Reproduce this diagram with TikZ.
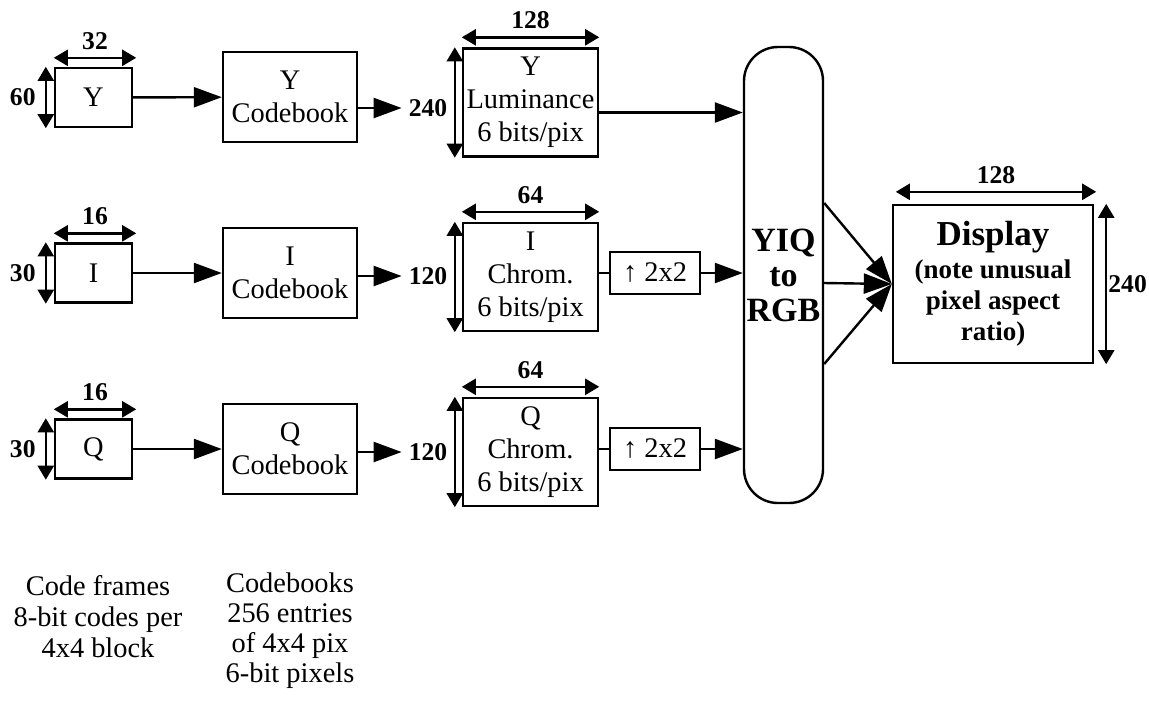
\documentclass[tikz,border=0pt]{standalone}
\usepackage{fontspec}
\setmainfont{Liberation Serif}
\usetikzlibrary{arrows.meta,positioning,calc}

\begin{document}
\begin{tikzpicture}[x=0.5pt,y=-0.5pt,line width=1.2pt,
  txt/.style={font=\fontsize{14.2}{16.5}\selectfont,align=center},
  blk/.style={draw,txt,inner sep=0pt},
  frame/.style={blk,minimum width=38.5pt,minimum height=29.5pt},
  cbook/.style={blk,minimum width=67pt,minimum height=45pt},
  plane/.style={blk,minimum width=67.5pt,minimum height=54pt},
  upbox/.style={blk,minimum width=45pt,minimum height=21pt},
  dimnum/.style={font=\bfseries\fontsize{12.8}{14}\selectfont,inner sep=1.5pt},
  flow/.style={-{Triangle[length=14pt,width=10pt]}},
  dim/.style={{Triangle[length=7pt,width=8pt]}-{Triangle[length=7pt,width=8pt]}}]
  \useasboundingbox (0,0) rectangle (1149,709);

  % Y row
  \node[frame] (fy) at (93.5,97.5) {Y};
  \node[cbook] (cy) at (290,97) {Y\\Codebook};
  \node[plane] (py) at (530.5,102.5) {Y\\Luminance\\6 bits/pix};
  \node[dimnum] (ny) at (428,108) {240};
  \draw[flow] (fy) -- (cy);
  \draw[flow] (cy.east |- ny) -- ([xshift=-1.5pt]ny.west);
  \draw[dim] ([yshift=4.5pt]fy.north west) -- ([xshift=1.5pt,yshift=4.5pt]fy.north east) node[midway,above=2pt,dimnum]{32};
  \draw[dim] ([xshift=-4pt]fy.north west) -- ([xshift=-4pt]fy.south west) node[midway,left=3pt,dimnum]{60};
  \draw[dim] ([yshift=5pt]py.north west) -- ([yshift=5pt]py.north east) node[midway,above=2pt,dimnum]{128};
  \draw[dim] ([xshift=-3.5pt]py.north west) -- ([xshift=-3.5pt]py.south west);

  % I row
  \node[frame] (fi) at (93.5,273) {I};
  \node[cbook] (ci) at (290,273) {I\\Codebook};
  \node[plane] (pi) at (530.5,277) {I\\Chrom.\\6 bits/pix};
  \node[dimnum] (ni) at (428,276) {120};
  \node[upbox] (ui) at (655,273) {↑ 2x2};
  \draw[flow] (fi) -- (ci);
  \draw[flow] (ci.east |- ni) -- ([xshift=-1.5pt]ni.west);
  \draw (pi.east |- ui) -- (ui.west);
  \draw[dim] ([yshift=4.5pt]fi.north west) -- ([xshift=1.5pt,yshift=4.5pt]fi.north east) node[midway,above=2pt,dimnum]{16};
  \draw[dim] ([xshift=-4pt]fi.north west) -- ([xshift=-4pt]fi.south west) node[midway,left=3pt,dimnum]{30};
  \draw[dim] ([yshift=5pt]pi.north west) -- ([yshift=5pt]pi.north east) node[midway,above=2pt,dimnum]{64};
  \draw[dim] ([xshift=-3.5pt]pi.north west) -- ([xshift=-3.5pt]pi.south west);

  % Q row
  \node[frame] (fq) at (93.5,449) {Q};
  \node[cbook] (cq) at (290,449) {Q\\Codebook};
  \node[plane] (pq) at (530.5,452) {Q\\Chrom.\\6 bits/pix};
  \node[dimnum] (nq) at (428,452) {120};
  \node[upbox] (uq) at (655,449) {↑ 2x2};
  \draw[flow] (fq) -- (cq);
  \draw[flow] (cq.east |- nq) -- ([xshift=-1.5pt]nq.west);
  \draw (pq.east |- uq) -- (uq.west);
  \draw[dim] ([yshift=4.5pt]fq.north west) -- ([xshift=1.5pt,yshift=4.5pt]fq.north east) node[midway,above=2pt,dimnum]{16};
  \draw[dim] ([xshift=-4pt]fq.north west) -- ([xshift=-4pt]fq.south west) node[midway,left=3pt,dimnum]{30};
  \draw[dim] ([yshift=5pt]pq.north west) -- ([yshift=5pt]pq.north east) node[midway,above=2pt,dimnum]{64};
  \draw[dim] ([xshift=-3.5pt]pq.north west) -- ([xshift=-3.5pt]pq.south west);

  % colour conversion and display
  \node[draw,rounded corners=17pt,minimum width=39.5pt,minimum height=228pt,inner sep=0pt,align=center,
        font=\bfseries\fontsize{17}{17.5}\selectfont] (yiq) at (783.5,275) {YIQ\\to\\RGB};
  \node[draw,minimum width=100pt,minimum height=79pt,inner sep=0pt,align=center,
        font=\bfseries\fontsize{13.5}{15.5}\selectfont] (disp) at (993,284)
        {{\fontsize{17.5}{19}\selectfont Display}\\[1pt](note unusual\\pixel aspect\\ratio)};
  \draw[flow] ([yshift=-5pt]py.east) -- ([yshift=-5pt]py.east -| yiq.west);
  \draw[flow] (ui) -- (ui -| yiq.west);
  \draw[flow] (uq) -- (uq -| yiq.west);
  \draw[flow] ($(yiq.east)+(0,-72)$) -- (disp.west);
  \draw[flow] ($(yiq.east)+(0,8)$) -- (disp.west);
  \draw[flow] ($(yiq.east)+(0,89)$) -- (disp.west);
  \draw[dim] ([xshift=2pt,yshift=6pt]disp.north west) -- ([xshift=1pt,yshift=6pt]disp.north east) node[midway,above=2pt,dimnum]{128};
  \draw[dim] ([xshift=6pt]disp.north east) -- ([xshift=6pt]disp.south east) node[midway,right=0pt,dimnum,inner sep=0.5pt]{240};

  % notes
  \node[txt,font=\fontsize{14.2}{15.5}\selectfont] (nframes) at (98,617) {Code frames\\8-bit codes per\\4x4 block};
  \node[txt,font=\fontsize{14.2}{15}\selectfont] (nbooks) at (290,631) {Codebooks\\256 entries\\of 4x4 pix\\6-bit pixels};
\end{tikzpicture}
\end{document}
